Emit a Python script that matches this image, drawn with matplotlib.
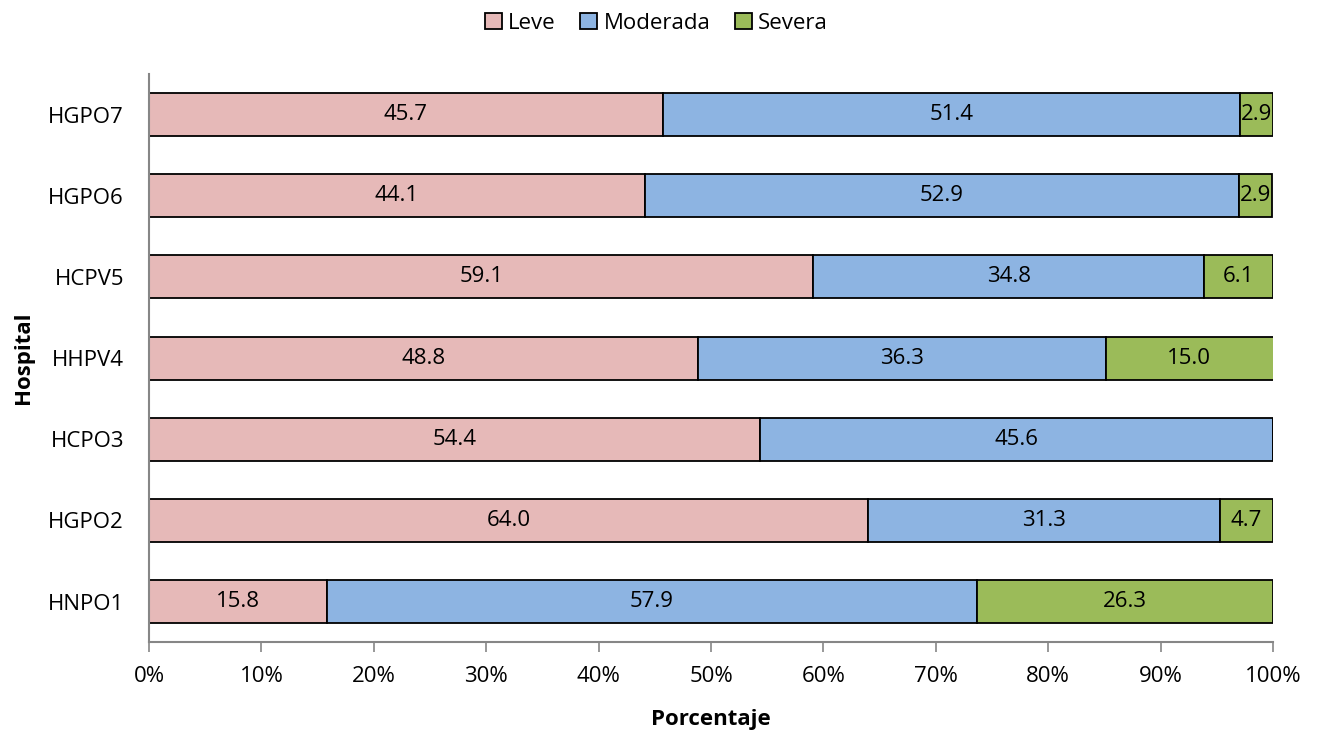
import numpy as np
import matplotlib.pyplot as plt
from matplotlib.ticker import PercentFormatter

plt.rcParams['font.family'] = ['Open Sans', 'DejaVu Sans']

hospitals = ['HNPO1', 'HGPO2', 'HCPO3', 'HHPV4', 'HCPV5', 'HGPO6', 'HGPO7']
leve = [15.8, 64.0, 54.4, 48.8, 59.1, 44.1, 45.7]
moderada = [57.9, 31.3, 45.6, 36.3, 34.8, 52.9, 51.4]
severa = [26.3, 4.7, 0.0, 15.0, 6.1, 2.9, 2.9]

series = [('Leve', leve, '#E6B9B8'),
          ('Moderada', moderada, '#8DB4E2'),
          ('Severa', severa, '#9BBB59')]

fs = 16

fig = plt.figure(figsize=(13.21, 7.33), dpi=100)
ax = fig.add_axes([0.1128, 0.124, 0.8509, 0.775])

y = np.arange(len(hospitals))
left = np.zeros(len(hospitals))
for name, vals, col in series:
    vals = np.array(vals)
    bars = ax.barh(y, vals, left=left, height=0.53, color=col,
                   edgecolor='black', linewidth=1.3, label=name)
    labels = ['%.1f' % v if v > 0 else '' for v in vals]
    ax.bar_label(bars, labels=labels, label_type='center', fontsize=fs)
    left += vals

ax.set_xlim(0, 100)
ax.set_ylim(-0.5, len(hospitals) - 0.5)
ax.set_yticks(y)
ax.set_yticklabels(hospitals, fontsize=fs)
ax.set_xticks(np.arange(0, 101, 10))
ax.xaxis.set_major_formatter(PercentFormatter(decimals=0))
ax.tick_params(axis='x', labelsize=fs, length=7, width=1.2, color='#868686', pad=10)
ax.tick_params(axis='y', length=0, pad=18)

for s in ['top', 'right']:
    ax.spines[s].set_visible(False)
for s in ['left', 'bottom']:
    ax.spines[s].set_color('#868686')
    ax.spines[s].set_linewidth(1.5)

ax.set_xlabel('Porcentaje', fontsize=fs, fontweight='bold', labelpad=16)
ax.set_ylabel('Hospital', fontsize=fs, fontweight='bold', labelpad=10)

fig.legend(loc='upper center', bbox_to_anchor=(0.497, 1.01), ncol=3, frameon=False,
           fontsize=fs, handlelength=0.75, handleheight=0.75, handletextpad=0.3,
           columnspacing=1.1)

fig.savefig('out.png', dpi=100)
